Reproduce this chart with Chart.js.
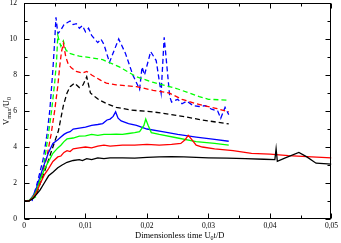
<!DOCTYPE html>
<html>
<head>
<meta charset="utf-8">
<script src="https://cdn.jsdelivr.net/npm/chart.js@4.4.1/dist/chart.umd.min.js"></script>
<style>
  html, body { margin: 0; padding: 0; background: #fff; }
  #wrap { width: 341px; height: 243px; position: relative; }
</style>
</head>
<body>
<div id="wrap"><canvas id="chart" width="341" height="243"></canvas></div>
<script>
// [time, Vmax/U0] pairs
var blackSolid = [[0,1],[0.0008,1.0],[0.0015,1.15],[0.002,1.35],[0.0026,1.6],[0.0033,2.0],[0.004,2.4],[0.0047,2.6],[0.0055,2.85],[0.0062,3.0],[0.007,3.15],[0.008,3.25],[0.009,3.3],[0.0095,3.25],[0.0102,3.35],[0.011,3.3],[0.012,3.4],[0.013,3.35],[0.014,3.4],[0.016,3.4],[0.018,3.38],[0.02,3.42],[0.022,3.45],[0.024,3.47],[0.026,3.45],[0.028,3.42],[0.03,3.4],[0.033,3.38],[0.036,3.35],[0.039,3.32],[0.0408,3.3],[0.041,3.9],[0.0412,3.2],[0.0425,3.4],[0.0447,3.7],[0.046,3.45],[0.0475,3.1],[0.05,3.05]];
var redSolid = [[0,1],[0.0008,1.0],[0.0015,1.2],[0.002,1.45],[0.0026,1.95],[0.0033,2.45],[0.004,2.8],[0.0047,3.2],[0.0055,3.45],[0.006,3.5],[0.0065,3.7],[0.007,3.8],[0.0075,3.75],[0.008,3.9],[0.009,3.95],[0.01,4.0],[0.011,3.95],[0.012,4.05],[0.013,4.1],[0.014,4.05],[0.016,4.1],[0.018,4.1],[0.02,4.15],[0.022,4.1],[0.024,4.15],[0.0255,4.2],[0.0262,4.4],[0.0267,4.65],[0.0272,4.45],[0.028,4.1],[0.029,4.0],[0.031,3.9],[0.034,3.8],[0.037,3.65],[0.04,3.6],[0.043,3.52],[0.046,3.47],[0.05,3.4]];
var greenSolid = [[0,1],[0.0008,1.0],[0.0015,1.25],[0.002,1.55],[0.0026,2.15],[0.0033,2.75],[0.004,3.2],[0.0047,3.65],[0.0055,3.95],[0.006,4.1],[0.0065,4.3],[0.007,4.45],[0.008,4.5],[0.009,4.6],[0.01,4.62],[0.011,4.7],[0.012,4.65],[0.013,4.7],[0.014,4.7],[0.015,4.72],[0.016,4.7],[0.017,4.75],[0.018,4.8],[0.0188,4.85],[0.0195,5.2],[0.0198,5.55],[0.0202,5.2],[0.0207,4.8],[0.022,4.7],[0.025,4.5],[0.028,4.3],[0.031,4.2],[0.0333,4.1]];
var blueSolid = [[0,1],[0.0008,1.0],[0.0015,1.3],[0.002,1.7],[0.0026,2.35],[0.0033,3.05],[0.004,3.7],[0.0047,4.2],[0.0055,4.4],[0.006,4.55],[0.0065,4.7],[0.007,4.8],[0.0075,4.85],[0.008,5.0],[0.009,5.05],[0.01,5.1],[0.011,5.2],[0.012,5.25],[0.0128,5.3],[0.0135,5.5],[0.014,5.55],[0.0145,5.7],[0.0149,5.95],[0.0153,5.6],[0.0158,5.45],[0.017,5.3],[0.0183,5.2],[0.02,5.0],[0.0225,4.85],[0.025,4.7],[0.028,4.55],[0.031,4.42],[0.0333,4.32]];
var blackDashed = [[0,1],[0.001,1.0],[0.002,1.4],[0.003,2.3],[0.0037,3.0],[0.0042,3.5],[0.005,4.3],[0.0056,4.9],[0.006,5.6],[0.0064,6.3],[0.007,7.0],[0.0075,7.35],[0.0082,7.55],[0.009,7.3],[0.0096,7.45],[0.0102,7.9],[0.0108,7.0],[0.0115,6.8],[0.0123,6.6],[0.0135,6.4],[0.015,6.2],[0.0175,6.05],[0.021,5.95],[0.025,5.75],[0.029,5.5],[0.0333,5.28]];
var redDashed = [[0,1],[0.001,1.0],[0.002,1.6],[0.003,2.6],[0.0037,3.4],[0.0044,4.7],[0.005,6.05],[0.0055,7.4],[0.0058,8.45],[0.0061,9.3],[0.0064,9.75],[0.0068,9.0],[0.0072,8.6],[0.0077,8.4],[0.0085,8.2],[0.0095,8.1],[0.0102,8.2],[0.011,8.0],[0.0125,7.7],[0.0134,7.55],[0.015,7.45],[0.0183,7.35],[0.021,7.15],[0.0236,7.0],[0.0257,6.65],[0.028,6.4],[0.0312,6.15],[0.0333,5.95]];
var greenDashed = [[0,1],[0.001,1.05],[0.002,1.25],[0.0027,2.2],[0.0034,3.4],[0.004,4.8],[0.0045,6.05],[0.005,7.6],[0.0053,8.8],[0.0055,10.2],[0.0058,9.8],[0.006,9.6],[0.0064,9.9],[0.0068,9.4],[0.0074,9.2],[0.009,9.05],[0.011,8.95],[0.0128,8.85],[0.0155,8.45],[0.0183,7.9],[0.0209,7.6],[0.0248,7.25],[0.0285,6.8],[0.03,6.65],[0.0333,6.6]];
var blueDashed = [[0,1],[0.0013,1.0],[0.002,1.8],[0.0031,3.3],[0.0037,4.6],[0.0042,6.05],[0.0047,8.3],[0.005,9.95],[0.0052,11.2],[0.0055,10.3],[0.006,10.5],[0.0065,10.8],[0.007,10.9],[0.0075,11.0],[0.008,10.8],[0.0085,10.85],[0.009,10.6],[0.0095,10.75],[0.01,10.4],[0.0105,10.6],[0.011,10.2],[0.0115,10.0],[0.012,9.8],[0.0125,10.0],[0.013,9.7],[0.0139,8.7],[0.0147,9.4],[0.0154,10.0],[0.0165,9.2],[0.0177,8.0],[0.0188,7.2],[0.0192,8.45],[0.0196,8.0],[0.0206,9.3],[0.0215,8.8],[0.0223,7.0],[0.0228,10.1],[0.0237,6.8],[0.024,6.5],[0.025,6.65],[0.0257,6.4],[0.0265,6.55],[0.0275,6.3],[0.0285,6.25],[0.0295,6.3],[0.0305,6.1],[0.0315,6.0],[0.032,5.6],[0.0327,6.2],[0.0333,5.8]];

var xRange = [0, 0.05];
var yRange = [0, 12];

var FONT = '"Liberation Serif", "DejaVu Serif", serif';

function toPoints(arr) {
  return arr.map(function(p) { return { x: p[0], y: p[1] }; });
}

function series(arr, color, dashed) {
  return {
    data: toPoints(arr),
    borderColor: color,
    borderWidth: 1.3,
    borderDash: dashed ? [5, 3] : [],
    pointRadius: 0,
    tension: 0,
    fill: false
  };
}

// frame + inward ticks on all four sides, plus subscripted axis titles
var frameTicks = {
  id: 'frameTicks',
  afterDraw: function(chart) {
    var ctx = chart.ctx, a = chart.chartArea, x = chart.scales.x, y = chart.scales.y;
    ctx.save();
    ctx.strokeStyle = '#000';
    ctx.lineWidth = 1;
    var L = Math.round(a.left) + 0.5, R = Math.round(a.right) - 0.5;
    var T = Math.round(a.top) + 0.5, B = Math.round(a.bottom) - 0.5;
    ctx.strokeRect(L, T, R - L, B - T);
    ctx.beginPath();
    x.ticks.forEach(function(t, i) {
      var px = Math.round(x.getPixelForValue(t.value)) + 0.5;
      var len = i % 2 === 0 ? 5 : 3;
      ctx.moveTo(px, B); ctx.lineTo(px, B - len);
      ctx.moveTo(px, T); ctx.lineTo(px, T + len);
    });
    y.ticks.forEach(function(t, i) {
      var py = Math.round(y.getPixelForValue(t.value)) + 0.5;
      var len = i % 2 === 0 ? 5 : 3;
      ctx.moveTo(L, py); ctx.lineTo(L + len, py);
      ctx.moveTo(R, py); ctx.lineTo(R - len, py);
    });
    ctx.stroke();

    ctx.fillStyle = '#000';
    ctx.textBaseline = 'alphabetic';
    // x title
    var big = '8.5px ' + FONT, small = '6px ' + FONT;
    ctx.font = big;
    var p1 = 'Dimensionless time U', p3 = 't/D';
    var w1 = ctx.measureText(p1).width, w3 = ctx.measureText(p3).width;
    ctx.font = small;
    var w2 = ctx.measureText('0').width;
    var cx = (a.left + a.right) / 2 + 2;
    var sx = cx - (w1 + w2 + w3) / 2, by = 238;
    ctx.font = big; ctx.fillText(p1, sx, by);
    ctx.font = small; ctx.fillText('0', sx + w1, by + 2);
    ctx.font = big; ctx.fillText(p3, sx + w1 + w2, by);

    // y title, rotated
    ctx.translate(9, (a.top + a.bottom) / 2);
    ctx.rotate(-Math.PI / 2);
    var parts = [['V', big, 0], ['max', small, 2], ['/U', big, 0], ['0', small, 2]];
    var tw = 0;
    parts.forEach(function(p) { ctx.font = p[1]; p.push(ctx.measureText(p[0]).width); tw += p[3]; });
    var ox = -tw / 2;
    parts.forEach(function(p) {
      ctx.font = p[1];
      ctx.fillText(p[0], ox, p[2]);
      ox += p[3];
    });
    ctx.restore();
  }
};

new Chart(document.getElementById('chart').getContext('2d'), {
  type: 'line',
  data: {
    datasets: [
      series(blackSolid, '#000000', false),
      series(redSolid, '#ff0000', false),
      series(greenSolid, '#00ff00', false),
      series(blueSolid, '#0000ff', false),
      series(blackDashed, '#000000', true),
      series(redDashed, '#ff0000', true),
      series(greenDashed, '#00ff00', true),
      series(blueDashed, '#0000ff', true)
    ]
  },
  options: {
    responsive: false,
    animation: false,
    layout: { padding: { top: 3, right: 8, left: 0, bottom: 0 } },
    plugins: { legend: { display: false }, tooltip: { enabled: false } },
    scales: {
      x: {
        type: 'linear',
        min: xRange[0], max: xRange[1],
        grid: { display: false, drawTicks: false },
        border: { display: false },
        afterFit: function(s) { s.height = 24; s.paddingLeft = 0; },
        ticks: {
          stepSize: 0.005,
          maxRotation: 0,
          autoSkip: false,
          padding: 3,
          color: '#000',
          font: { family: FONT, size: 7.5 },
          callback: function(v, i) {
            if (i % 2 !== 0) return '';
            return v === 0 ? '0' : v.toFixed(2).replace('.', ',');
          }
        }
      },
      y: {
        min: yRange[0], max: yRange[1],
        grid: { display: false, drawTicks: false },
        border: { display: false },
        afterFit: function(s) { s.width = 24; s.paddingTop = 0; s.paddingBottom = 0; },
        ticks: {
          stepSize: 1,
          autoSkip: false,
          padding: 7,
          color: '#000',
          font: { family: FONT, size: 7.5 },
          callback: function(v, i) { return i % 2 === 0 ? String(v) : ''; }
        }
      }
    }
  },
  plugins: [frameTicks]
});
</script>
</body>
</html>
